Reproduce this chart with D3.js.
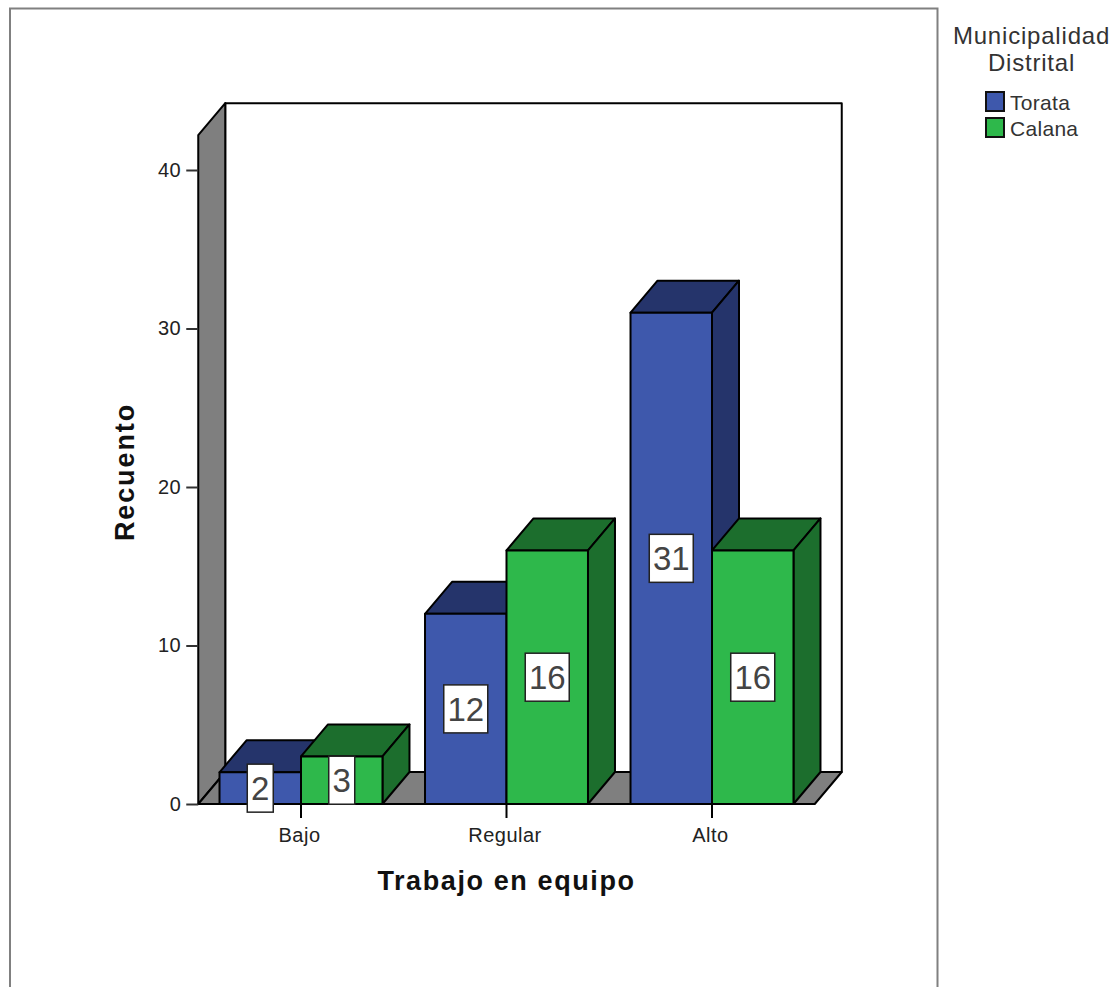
<!DOCTYPE html>
<html>
<head>
<meta charset="utf-8">
<script src="https://cdn.jsdelivr.net/npm/d3@7/dist/d3.min.js"></script>
<style>
  html, body { margin: 0; padding: 0; background: #fff; overflow: hidden; }
  svg { display: block; }
  text { font-family: "Liberation Sans", Arial, sans-serif; }
</style>
</head>
<body>
<svg id="chart" width="1118" height="987"></svg>
<script>
const categories = ["Bajo", "Regular", "Alto"];
const seriesNames = ["Torata", "Calana"];
const torataValues = [2, 12, 31];
const calanaValues = [3, 16, 16];
const yTicks = [0, 10, 20, 30, 40];
const frontColors = ["#3e58ac", "#2eb84b"];
const darkColors = ["#25346b", "#1c6e2d"];

const svg = d3.select("#chart");
const depthX = 27, depthY = 32;
const seriesValues = [torataValues, calanaValues];

const y = d3.scaleLinear().domain([0, 40]).range([804, 170]);
const yTop = 42.2;
const x0 = d3.scaleBand().domain(categories).range([198.25, 814.75])
  .paddingInner(0.207).paddingOuter(0.1035);
const x1 = d3.scaleBand().domain(seriesNames).range([0, x0.bandwidth()]);

// Outer chart frame, open at the bottom of the page
svg.append("path")
  .attr("d", "M10,987V8.5H937.5V987")
  .attr("fill", "none").attr("stroke", "#808080").attr("stroke-width", 2);

const poly = pts => "M" + pts.map(p => p.join(",")).join("L") + "Z";
const edgeColor = "#000";

// 3D box walls
const leftX = x0.range()[0], rightX = x0.range()[1];
const baseY = y(0), topY = y(yTop);
const walls = svg.append("g").attr("stroke", edgeColor).attr("stroke-width", 2).attr("stroke-linejoin", "round");
walls.append("path").attr("fill", "#fff")
  .attr("d", poly([[leftX + depthX, topY - depthY], [rightX + depthX, topY - depthY], [rightX + depthX, baseY - depthY], [leftX + depthX, baseY - depthY]]));
walls.append("path").attr("fill", "#7f7f7f")
  .attr("d", poly([[leftX, topY], [leftX + depthX, topY - depthY], [leftX + depthX, baseY - depthY], [leftX, baseY]]));
walls.append("path").attr("fill", "#7f7f7f")
  .attr("d", poly([[leftX, baseY], [leftX + depthX, baseY - depthY], [rightX + depthX, baseY - depthY], [rightX, baseY]]));

// Extruded bars, back-to-front within each category
const rows = categories.flatMap((c, ci) => seriesNames.map((s, si) => ({ c, s, si, v: seriesValues[si][ci] })));
const bars = svg.append("g").attr("stroke", edgeColor).attr("stroke-width", 2).attr("stroke-linejoin", "round")
  .selectAll("g").data(rows).join("g");

bars.append("path").attr("fill", d => darkColors[d.si]).attr("d", d => {
  const a = x0(d.c) + x1(d.s), b = a + x1.bandwidth(), t = y(d.v);
  return poly([[a, t], [a + depthX, t - depthY], [b + depthX, t - depthY], [b, t]]);
});
bars.append("path").attr("fill", d => darkColors[d.si]).attr("d", d => {
  const b = x0(d.c) + x1(d.s) + x1.bandwidth(), t = y(d.v);
  return poly([[b, t], [b + depthX, t - depthY], [b + depthX, baseY - depthY], [b, baseY]]);
});
bars.append("rect").attr("fill", d => frontColors[d.si])
  .attr("x", d => x0(d.c) + x1(d.s)).attr("y", d => y(d.v))
  .attr("width", x1.bandwidth()).attr("height", d => baseY - y(d.v));

// Axes
const yAxis = d3.axisLeft(y).tickValues(yTicks).tickSize(12).tickPadding(5).tickSizeOuter(0);
const gy = svg.append("g").attr("transform", `translate(${leftX},0)`).call(yAxis);
gy.select(".domain").remove();
gy.selectAll("line").attr("stroke", "#333").attr("stroke-width", 2);
gy.selectAll("text").attr("font-size", 20).attr("letter-spacing", 0.5).attr("fill", "#222").attr("font-family", "Liberation Sans");

const xAxis = d3.axisBottom(x0).tickSize(14).tickPadding(10).tickSizeOuter(0);
const gx = svg.append("g").attr("transform", `translate(0,${baseY})`).call(xAxis);
gx.select(".domain").remove();
gx.selectAll("line").attr("stroke", "#000").attr("stroke-width", 2);
gx.selectAll("text").attr("font-size", 20).attr("letter-spacing", 0.5).attr("dx", -1.5).attr("fill", "#222").attr("font-family", "Liberation Sans");

// Value labels in white boxes
const labels = svg.append("g").selectAll("g").data(rows).join("g")
  .attr("transform", d => `translate(${x0(d.c) + x1(d.s) + x1.bandwidth() / 2},${(y(d.v) + baseY) / 2})`);
labels.append("rect")
  .attr("x", d => String(d.v).length > 1 ? -22 : -13).attr("y", -24)
  .attr("width", d => String(d.v).length > 1 ? 44 : 26).attr("height", 48)
  .attr("fill", "#fff").attr("stroke", "#222").attr("stroke-width", 1.5);
labels.append("text").attr("text-anchor", "middle").attr("y", 12)
  .attr("font-size", 33).attr("fill", "#444").text(d => d.v);

// Axis titles
svg.append("text").attr("x", 506.5).attr("y", 890).attr("text-anchor", "middle")
  .attr("font-size", 27).attr("font-weight", "bold").attr("letter-spacing", 1.6).attr("fill", "#111")
  .text("Trabajo en equipo");
svg.append("text").attr("transform", "translate(134,472) rotate(-90)").attr("text-anchor", "middle")
  .attr("font-size", 27).attr("font-weight", "bold").attr("letter-spacing", 1.9).attr("fill", "#111")
  .text("Recuento");

// Legend
const legendTitle = ["Municipalidad", "Distrital"];
svg.append("g").selectAll("text").data(legendTitle).join("text")
  .attr("x", 1031.5).attr("y", (d, i) => 44 + i * 27).attr("text-anchor", "middle")
  .attr("font-size", 24).attr("letter-spacing", 0.8).attr("fill", "#333").text(d => d);
const legend = svg.append("g").selectAll("g").data(seriesNames).join("g")
  .attr("transform", (d, i) => `translate(986,${92 + i * 26})`);
legend.append("rect").attr("width", 18).attr("height", 19)
  .attr("fill", (d, i) => frontColors[i]).attr("stroke", "#111").attr("stroke-width", 2);
legend.append("text").attr("x", 24).attr("y", 18)
  .attr("font-size", 21).attr("letter-spacing", 0.3).attr("fill", "#333").text(d => d);
</script>
</body>
</html>
